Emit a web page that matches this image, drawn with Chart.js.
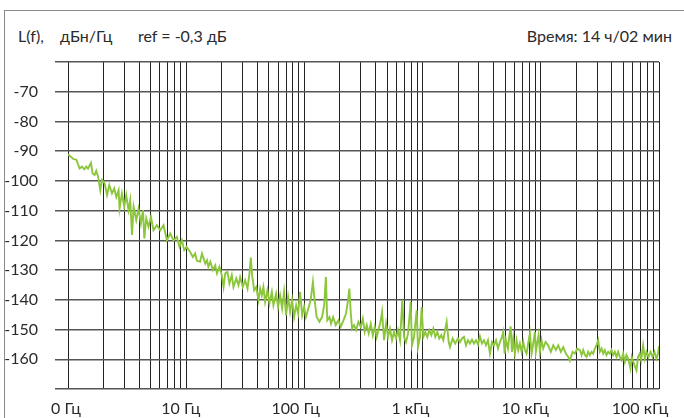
<!DOCTYPE html>
<html>
<head>
<meta charset="utf-8">
<title>L(f)</title>
<script src="https://cdn.jsdelivr.net/npm/chart.js@4.4.0/dist/chart.umd.min.js"></script>
<style>
  body { margin: 0; background: #fff; }
  #wrap { position: relative; width: 684px; height: 418px; font-family: Lato, "Open Sans", sans-serif; color: #2a2a2a; }
  #frame { position: absolute; left: 4px; top: 10px; right: 0; bottom: 0; border-left: 1.5px solid #8a8a8a; border-top: 1.5px solid #8a8a8a; }
  .hdr { position: absolute; top: 26px; font-size: 16px; white-space: nowrap; }
  canvas { position: absolute; left: 0; top: 0; }
</style>
</head>
<body>
<div id="wrap">
  <div id="frame"></div>
  <span class="hdr" style="left:18px">L(f),</span>
  <span class="hdr" style="left:60px">дБн/Гц</span>
  <span class="hdr" style="left:138px">ref = -0,3 дБ</span>
  <span class="hdr" style="right:12px">Время: 14 ч/02 мин</span>
  <canvas id="chart" width="684" height="418"></canvas>
</div>
<script>
// offset frequency, Hz
var freqHz = [
  1, 1.115, 1.175, 1.253, 1.313, 1.373, 1.428, 1.476, 1.564, 1.614, 1.679, 1.734, 1.794, 1.875, 1.937,
  2.04, 2.14, 2.234, 2.355, 2.462, 2.56, 2.68, 2.73, 2.86, 2.99, 3.11, 3.25, 3.36, 3.48, 3.59, 3.78,
  3.95, 4.14, 4.31, 4.42, 4.59, 4.80, 5.03, 5.29, 5.65, 6.03, 6.43, 6.87, 7.32, 7.81, 8.34, 8.77,
  9.20, 9.62, 10.1, 10.8, 11.4, 11.9,
  12.3, 13.1, 13.6, 14.5, 15.0, 15.4, 16.0, 16.8, 17.6, 18.2, 19.1, 20.0, 20.7, 21.4, 22.3, 23.2,
  24.3, 25.1, 26.5, 27.7, 28.6, 30.1, 31.5, 33.0, 34.3, 35.2, 36.1, 37.6, 39.1, 40.9, 42.2, 43.6,
  45.0, 46.5, 48.7, 50.6, 53.0, 54.7, 57.6, 59.9, 62.3, 64.8, 67.3, 70.0, 72.8, 75.7, 78.7, 81.8,
  85.1, 88.5, 92.0, 95.7, 99.4, 103, 108, 113, 118, 122, 127, 134, 141, 147, 152,
  156, 163, 168, 175, 184, 194, 203, 214, 225, 234, 240, 247, 253, 263, 274, 286, 300, 312, 324,
  337, 350, 364, 379, 394, 409, 426, 443, 454, 472, 491, 510, 530, 551, 573, 596, 619, 644, 674,
  697, 724, 753, 793, 813, 846, 891, 914, 951, 982, 1014, 1054, 1096, 1140, 1185, 1232, 1281, 1332,
  1384, 1439, 1497, 1556, 1598, 1663, 1705, 1797, 1889, 1992, 2071,
  2153, 2239, 2328, 2421, 2516, 2617, 2721, 2830, 2943, 3057, 3177, 3304, 3436, 3573, 3714, 3864,
  4018, 4178, 4345, 4512, 4690, 4814, 4944, 5070, 5273, 5408, 5556, 5700, 5848, 6040, 6240, 6442,
  6658, 6887, 7104, 7340, 7580, 7820, 8088, 8357, 8630, 8914, 9077, 9310, 9573, 9826, 10140, 10485,
  10965, 11535, 12168, 12737, 13423, 14037, 14797, 15473, 16295, 17054, 17616, 18578, 19418, 20321, 21400,
  22131, 22834, 23605, 24364, 25180, 25996, 26868, 27738, 28660, 29597, 30573, 31580, 32660, 33696,
  34760, 35954, 37154, 38363, 39628, 40933, 42267, 43676, 45083, 46603, 48178, 49725, 51400, 53057,
  54827, 57412, 58884, 61235, 64452, 66530, 68771, 70600, 73379, 75900, 78296, 81470, 84720, 88100,
  91580, 95113, 98200, 100000
];
// L(f), dBc/Hz
var levelDb = [
  -91.0, -92.7, -92.8, -95.8, -95.2, -96.1, -95.2, -95.9, -93.9, -97.5, -98.0, -96.6, -98.4, -103.1, -99.7,
  -100.8, -104.8, -101.4, -104.2, -102.5, -105.4, -103.1, -109.3, -104.2, -108.7, -104.8, -109.8, -106.5, -118.2, -108.7, -113.2,
  -109.3, -114.3, -109.8, -119.4, -112.6, -115.4, -112.1, -116.6, -114.9, -116.6, -114.9, -120.0, -117.7, -120.0, -118.8, -122.2,
  -120.0, -123.3, -122.2, -123.9, -125.6, -124.4,
  -126.8, -127.2, -124.4, -127.8, -126.7, -128.9, -127.2, -130.0, -128.4, -131.1, -128.9, -131.7, -135.7, -131.1, -130.6, -134.5,
  -131.7, -135.7, -132.8, -135.1, -132.3, -135.7, -133.4, -136.2, -131.1, -125.8, -131.7, -136.8, -135.7, -140.1, -136.2, -138.5,
  -135.7, -140.7, -136.8, -141.2, -137.3, -141.8, -137.9, -142.4, -138.5, -142.9, -137.3, -145.2, -139.0, -144.1, -140.1, -145.8,
  -141.8, -144.6, -137.3, -145.2, -142.4, -145.8, -142.9, -140.1, -134.0, -140.1, -145.8, -147.4, -145.8, -141.8, -132.3,
  -146.9, -145.8, -148.0, -145.8, -148.5, -146.9, -149.1, -146.9, -144.6, -140.1, -136.2, -144.6, -149.7, -148.5, -150.2, -147.4, -149.1, -146.3, -150.8,
  -148.5, -151.3, -148.1, -152.0, -149.1, -152.5, -149.7, -146.9, -144.1, -153.6, -148.0, -152.5, -149.7, -153.6, -150.8, -153.0, -150.2, -153.6, -140.1,
  -152.5, -154.2, -151.3, -140.7, -155.3, -152.5, -143.5, -155.9, -152.5, -142.4, -152.5, -150.8, -152.5, -150.2, -151.9, -149.7, -152.5, -150.8,
  -153.0, -151.9, -153.6, -149.7, -147.4, -154.2, -155.9, -153.0, -154.7, -153.0, -154.2,
  -153.0, -152.5, -155.3, -153.6, -154.7, -153.4, -154.7, -153.6, -155.0, -152.3, -154.7, -153.6, -155.3, -153.6, -158.1, -154.2,
  -155.3, -153.6, -156.4, -154.2, -152.5, -150.8, -158.1, -153.6, -156.4, -152.5, -148.9, -157.5, -153.0, -158.1, -153.6, -156.9,
  -154.7, -157.5, -154.2, -156.9, -158.1, -154.7, -151.3, -158.1, -154.7, -150.8, -157.5, -154.7, -151.9, -157.5, -153.6, -156.4,
  -154.2, -155.3, -157.5, -155.3, -156.9, -155.3, -157.5, -155.9, -158.1, -159.2, -160.5, -157.5, -158.1, -156.4, -156.9,
  -158.6, -156.9, -158.6, -159.2, -157.5, -158.6, -157.5, -158.1, -156.4, -155.3, -153.6, -157.5, -156.4, -158.1,
  -156.9, -158.6, -157.5, -158.1, -156.9, -158.6, -157.5, -159.2, -157.5, -159.2, -160.3, -158.1, -160.9, -158.6,
  -159.8, -163.1, -159.2, -161.4, -163.7, -159.2, -158.1, -160.3, -155.3, -159.8, -157.5, -159.2, -157.5, -159.2,
  -157.5, -159.8, -158.1, -155.6
];

// grid: 1..9 in every decade from 1 Hz to 100 kHz
var decades = [1, 10, 100, 1000, 10000];
var mantissas = [1, 2, 3, 4, 5, 6, 7, 8, 9];
var gridFreqs = [];
decades.forEach(function (d) { mantissas.forEach(function (m) { gridFreqs.push(d * m); }); });
gridFreqs.push(100000);

// frequency labels sit on an evenly spaced row under the grid
var xTickLabels = ['0 Гц', '10 Гц', '100 Гц', '1 кГц', '10 кГц', '100 кГц'];
var xLabelPos = [0, 1, 2, 3, 4, 5];

var yMin = -170, yMax = -60, yStep = 10;

var tickFont = { family: 'Lato, "Open Sans", sans-serif', size: 16 };

var points = freqHz.map(function (f, i) { return { x: f, y: levelDb[i] }; });

new Chart(document.getElementById('chart'), {
  type: 'line',
  data: {
    datasets: [{
      data: points,
      borderColor: '#8cc63c',
      borderWidth: 1.9,
      pointRadius: 0,
      tension: 0,
      fill: false
    }]
  },
  options: {
    responsive: false,
    animation: false,
    layout: { padding: { top: 62, right: 25, left: 0, bottom: 0 } },
    plugins: { legend: { display: false }, tooltip: { enabled: false } },
    scales: {
      x: {
        type: 'logarithmic',
        min: 1,
        max: 100000,
        afterBuildTicks: function (s) { s.ticks = gridFreqs.map(function (v) { return { value: v }; }); },
        ticks: { display: false },
        grid: { color: '#222', lineWidth: 1, drawTicks: false },
        border: { display: false },
        afterFit: function (s) { s.height = 0; }
      },
      xl: {
        type: 'linear',
        axis: 'x',
        position: 'bottom',
        min: 0.0174,
        max: 5.165,
        afterBuildTicks: function (s) { s.ticks = xLabelPos.map(function (v) { return { value: v }; }); },
        ticks: {
          callback: function (v, i) { return xTickLabels[i]; },
          font: tickFont,
          color: '#2a2a2a',
          padding: 10,
          maxRotation: 0,
          autoSkip: false
        },
        grid: { display: false, drawTicks: false },
        border: { display: false },
        afterFit: function (s) { s.height = 29; }
      },
      y: {
        min: yMin,
        max: yMax,
        ticks: {
          stepSize: yStep,
          callback: function (v) { return (v === yMin || v === yMax) ? '' : v; },
          font: tickFont,
          color: '#2a2a2a',
          padding: 17
        },
        grid: { color: '#555', lineWidth: 1.5, tickLength: 13 },
        border: { display: false },
        afterFit: function (s) { s.width = 68; }
      }
    }
  }
});
</script>
</body>
</html>
